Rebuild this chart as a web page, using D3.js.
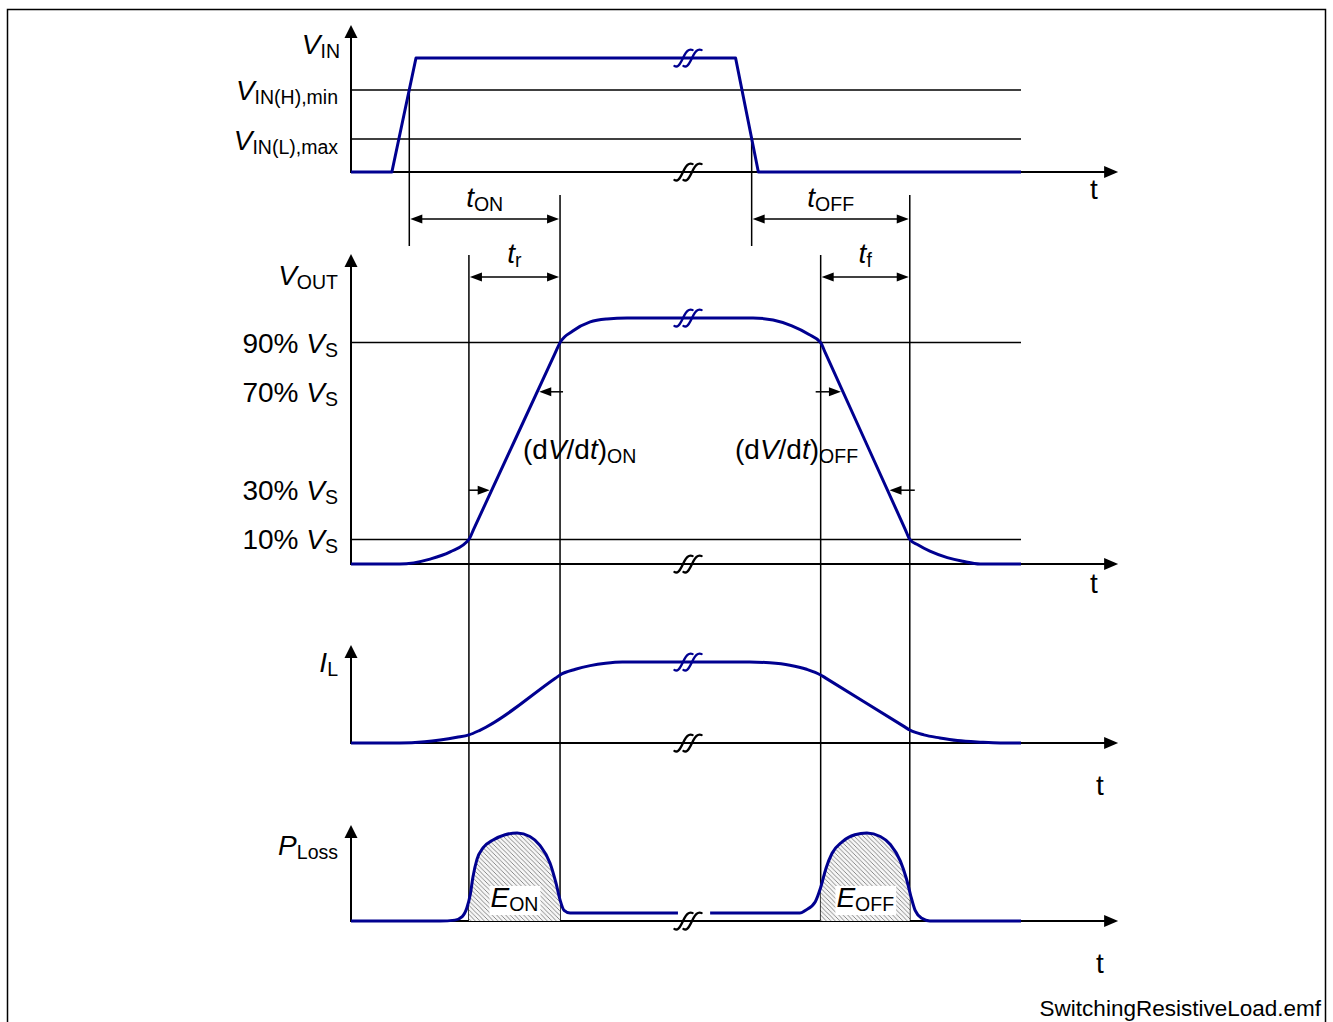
<!DOCTYPE html>
<html><head><meta charset="utf-8">
<script src="https://cdn.jsdelivr.net/npm/d3@7"></script>
<style>body{margin:0;background:#fff} svg text{font-family:"Liberation Sans",Arial,Helvetica,sans-serif}</style>
</head><body>
<svg id="c" width="1333" height="1022"></svg>
<script>
// ---------------- DATA ----------------
// time axis in arbitrary units 0..100
const vinTime  = [0, 6.1, 9.7, 57.4, 60.8, 100];
const vinLevel = [0, 0, 1, 1, 0, 0];
const vinThresholds = [0.72, 0.29];            // V_IN(H),min , V_IN(L),max

const voutTime = [0, 7.3, 11.8, 14.8, 17.6, 18.3, 30.5, 31.2, 33.1, 35.7, 38.2, 41.2, 60, 63, 65.8, 68.3, 70.1, 70.8, 82.7, 83.4, 84.6, 86.4, 89.0, 91.3, 93.9, 100];
const voutPct  = [0, 0, 2, 4.9, 10, 14.1, 85.9, 90, 94.7, 98.4, 99.6, 100, 100, 99.2, 96.8, 93.4, 90, 85.8, 14.2, 10, 7.8, 5.2, 2.6, 1.1, 0, 0];
const voutLines  = [90, 10];
const voutLabels = ["90%", "70%", "30%", "10%"];
const voutLabelLevels = [90, 70, 30, 10];

const ilTime  = [0, 7.3, 11, 13.3, 15.8, 17.6, 19.3, 30.5, 31.2, 33.5, 35.7, 38, 40.5, 59.5, 62.5, 65.5, 68, 70.1, 70.8, 82.7, 83.4, 85.5, 87.9, 90.5, 93.9, 96.9, 100];
const ilLevel = [0, 0, 0.015, 0.037, 0.07, 0.1, 0.16, 0.8, 0.84, 0.91, 0.955, 0.985, 1, 1, 0.99, 0.96, 0.91, 0.84, 0.804, 0.196, 0.16, 0.1, 0.062, 0.03, 0.01, 0, 0];

const pOnTime  = [0, 13.3, 15.5, 16.6, 17.3, 17.8, 18.2, 18.8, 19.7, 21.2, 23.0, 24.8, 26.7, 28.2, 29.7, 30.6, 31.2, 31.8, 32.7, 48.8];
const pOnLevel = [0, 0, 0.01, 0.05, 0.15, 0.3, 0.5, 0.7, 0.83, 0.92, 0.98, 1.0, 0.96, 0.86, 0.66, 0.43, 0.24, 0.12, 0.09, 0.09];
const pOffTime  = [53.6, 67, 67.8, 69.3, 70.1, 70.9, 71.8, 73.3, 75.2, 77.0, 79.0, 80.5, 82.0, 82.9, 83.5, 84.2, 85.2, 86.4, 100];
const pOffLevel = [0.09, 0.09, 0.12, 0.22, 0.38, 0.6, 0.77, 0.9, 0.98, 1.0, 0.96, 0.87, 0.68, 0.48, 0.3, 0.12, 0.03, 0, 0];

// switching events (time units)
const tOnStart = 8.7, tOnEnd = 31.2, trStart = 17.6;
const tOffStart = 59.8, tfStart = 70.1, tOffEnd = 83.4;
const breakTime = 50.3;
const dvdtLevels = [70, 30];

// ---------------- SCALES ----------------
const svg = d3.select('#c');
const BLUE = '#000090';
const x = d3.scaleLinear().domain([0, 100]).range([351, 1021]);
const xEnd = 114.5;
const yIn  = d3.scaleLinear().domain([0, 1]).range([172, 58]);
const yOut = d3.scaleLinear().domain([0, 100]).range([564, 318]);
const yIL  = d3.scaleLinear().domain([0, 1]).range([743, 662]);
const yP   = d3.scaleLinear().domain([0, 1]).range([921, 833]);

// ---------------- helpers ----------------
const FS = 28, SFS = 19.5;
const I = s => ({t: s, i: true}), S = s => ({t: s, s: true}), R = s => ({t: s});
function rich(g, px, py, parts, anchor = 'start', size = FS) {
  const t = g.append('text').attr('x', px).attr('y', py).attr('text-anchor', anchor)
    .attr('font-size', size).attr('fill', '#000');
  let sub = false;
  parts.forEach(p => {
    const s = t.append('tspan').text(p.t);
    if (p.i) s.attr('font-style', 'italic');
    if (p.s) { s.attr('font-size', SFS); if (!sub) { s.attr('dy', 4); sub = true; } }
    else if (sub) { s.attr('dy', -4); sub = false; }
  });
  return t;
}
function head(g, tx, ty, dir, len, hw) {
  let pts;
  if (dir === 'up') pts = [[tx, ty], [tx - hw, ty + len], [tx + hw, ty + len]];
  else if (dir === 'right') pts = [[tx, ty], [tx - len, ty - hw], [tx - len, ty + hw]];
  else pts = [[tx, ty], [tx + len, ty - hw], [tx + len, ty + hw]];
  g.append('polygon').attr('points', pts.map(p => p.join(',')).join(' ')).attr('fill', '#000');
}
function hline(g, x1, x2, y, w = 1.5, c = '#000') {
  g.append('line').attr('x1', x1).attr('x2', x2).attr('y1', y).attr('y2', y).attr('stroke', c).attr('stroke-width', w);
}
function vline(g, xx, y1, y2, w = 1.5) {
  g.append('line').attr('x1', xx).attr('x2', xx).attr('y1', y1).attr('y2', y2).attr('stroke', '#000').attr('stroke-width', w);
}
function breakMark(g, cx, cy, color) {
  [-4.5, 4.5].forEach(dx => {
    g.append('path').attr('transform', `translate(${cx + dx},${cy})`)
      .attr('d', 'M-9,8 C-6,9.5 -4,7 -2,3 L1,-3 C3,-7 5,-9.5 9,-8')
      .attr('fill', 'none').attr('stroke', color).attr('stroke-width', 2.4).attr('stroke-linecap', 'round');
  });
}
const zip = (a, b) => a.map((v, i) => [v, b[i]]);

// ---------------- defs ----------------
const defs = svg.append('defs');
const pat = defs.append('pattern').attr('id', 'hatch').attr('patternUnits', 'userSpaceOnUse').attr('width', 4.5).attr('height', 4.5);
pat.append('rect').attr('width', 4.5).attr('height', 4.5).attr('fill', '#f6f6f6');
pat.append('path').attr('d', 'M0,0 L4.5,4.5 M-1,3.5 L1,5.5 M3.5,-1 L5.5,1').attr('stroke', '#7e7e7e').attr('stroke-width', 0.9);
[[trStart, tOnEnd, 'clipOn'], [tfStart, tOffEnd, 'clipOff']].forEach(([a, b, id]) => {
  defs.append('clipPath').attr('id', id).append('rect')
    .attr('x', x(a)).attr('y', yP(1.2)).attr('width', x(b) - x(a)).attr('height', yP(0) - yP(1.2));
});

// ---------------- border ----------------
svg.append('path').attr('d', 'M7.5,1022 V9.5 H1325.5 V1022').attr('fill', 'none').attr('stroke', '#000').attr('stroke-width', 1.5);

const g = svg.append('g');

// threshold lines
vinThresholds.forEach(v => hline(g, x(0), x(100), yIn(v)));
voutLines.forEach(v => hline(g, x(0), x(100), yOut(v)));

// axes
[[yIn, 1.29], [yOut, 126], [yIL, 1.21], [yP, 1.09]].forEach(([ys, top]) => {
  vline(g, x(0), ys(0) + 1, ys(top) + 10, 2);
  head(g, x(0), ys(top), 'up', 13, 6.5);
  hline(g, x(0), x(xEnd) - 10, ys(0), 2);
  head(g, x(xEnd), ys(0), 'right', 14, 6);
});

// vertical event lines
vline(g, x(tOnStart), yIn(vinThresholds[0]), 246);
vline(g, x(tOffStart), yIn(vinThresholds[1]), 246);
vline(g, x(tOnEnd), 195, yP(0));
vline(g, x(tOffEnd), 195, yP(0));
vline(g, x(trStart), 255, yP(0));
vline(g, x(tfStart), 255, yP(0));

// dimension arrows
[[tOnStart, tOnEnd, 219], [tOffStart, tOffEnd, 219], [trStart, tOnEnd, 277], [tfStart, tOffEnd, 277]].forEach(([a, b, yy]) => {
  hline(g, x(a) + 8, x(b) - 8, yy, 1.5);
  head(g, x(a) + 1, yy, 'left', 12, 4.5);
  head(g, x(b) - 1, yy, 'right', 12, 4.5);
});

// hatched energy areas
const area = d3.area().x(d => x(d[0])).y0(yP(0)).y1(d => yP(d[1])).curve(d3.curveMonotoneX);
g.append('path').datum(zip(pOnTime, pOnLevel)).attr('d', area).attr('fill', 'url(#hatch)').attr('clip-path', 'url(#clipOn)');
g.append('path').datum(zip(pOffTime, pOffLevel)).attr('d', area).attr('fill', 'url(#hatch)').attr('clip-path', 'url(#clipOff)');

// waveforms
const mk = ys => d3.line().x(d => x(d[0])).y(d => ys(d[1])).curve(d3.curveMonotoneX);
const wave = (data, gen) => g.append('path').datum(data).attr('d', gen)
  .attr('fill', 'none').attr('stroke', BLUE).attr('stroke-width', 3).attr('stroke-linejoin', 'round');
wave(zip(vinTime, vinLevel), d3.line().x(d => x(d[0])).y(d => yIn(d[1])));
wave(zip(voutTime, voutPct), mk(yOut));
wave(zip(ilTime, ilLevel), mk(yIL));
wave(zip(pOnTime, pOnLevel), mk(yP));
wave(zip(pOffTime, pOffLevel), mk(yP));

// break marks
[yIn, yOut, yIL, yP].forEach(ys => breakMark(g, x(breakTime), ys(0), '#000'));
breakMark(g, x(breakTime), yIn(1), BLUE);
breakMark(g, x(breakTime), yOut(100), BLUE);
breakMark(g, x(breakTime), yIL(1), BLUE);

// dV/dt arrows: crossing times on the VOUT ramp
function crossing(level, t0, t1) {
  for (let i = 0; i < voutTime.length - 1; i++) {
    const a = voutTime[i], b = voutTime[i + 1];
    if (a < t0 || b > t1) continue;
    const va = voutPct[i], vb = voutPct[i + 1];
    if ((va - level) * (vb - level) <= 0 && va !== vb) return a + (level - va) / (vb - va) * (b - a);
  }
  return null;
}
{
  const t70 = crossing(dvdtLevels[0], trStart, tOnEnd), t30 = crossing(dvdtLevels[1], trStart, tOnEnd);
  const y70 = yOut(dvdtLevels[0]), y30 = yOut(dvdtLevels[1]);
  hline(g, x(t70) + 12, x(tOnEnd) + 3, y70, 1.5); head(g, x(t70) + 2, y70, 'left', 12, 4.5);
  hline(g, x(trStart), x(t30) - 12, y30, 1.5); head(g, x(t30) - 2, y30, 'right', 12, 4.5);
  const f70 = crossing(dvdtLevels[0], tfStart, tOffEnd), f30 = crossing(dvdtLevels[1], tfStart, tOffEnd);
  hline(g, x(tfStart) - 5, x(f70) - 12, y70, 1.5); head(g, x(f70) - 2, y70, 'right', 12, 4.5);
  hline(g, x(f30) + 12, x(tOffEnd) + 5, y30, 1.5); head(g, x(f30) + 2, y30, 'left', 12, 4.5);
}

// ---------------- texts ----------------
const T = svg.append('g');
rich(T, 340, 54, [I('V'), S('IN')], 'end');
rich(T, 338, yIn(vinThresholds[0]) + 10, [I('V'), S('IN(H),min')], 'end');
rich(T, 338, yIn(vinThresholds[1]) + 11, [I('V'), S('IN(L),max')], 'end');
rich(T, 338, 285, [I('V'), S('OUT')], 'end');
voutLabels.forEach((lab, i) => rich(T, 338, yOut(voutLabelLevels[i]) + 10, [R(lab + ' '), I('V'), S('S')], 'end'));
rich(T, 338, 672, [I('I'), S('L')], 'end');
rich(T, 338, 855, [I('P'), S('Loss')], 'end');

rich(T, (x(tOnStart) + x(tOnEnd)) / 2, 207, [I('t'), S('ON')], 'middle');
rich(T, (x(tOffStart) + x(tOffEnd)) / 2, 207, [I('t'), S('OFF')], 'middle');
rich(T, (x(trStart) + x(tOnEnd)) / 2, 263, [I('t'), S('r')], 'middle');
rich(T, (x(tfStart) + x(tOffEnd)) / 2, 263, [I('t'), S('f')], 'middle');

rich(T, 523, 459, [R('(d'), I('V'), R('/d'), I('t'), R(')'), S('ON')]);
rich(T, 735, 459, [R('(d'), I('V'), R('/d'), I('t'), R(')'), S('OFF')]);

// energy labels with white background
[[trStart, tOnEnd, 'ON'], [tfStart, tOffEnd, 'OFF']].forEach(([a, b, s]) => {
  const cx = (x(a) + x(b)) / 2;
  const bg = T.append('rect').attr('fill', '#fff');
  const t = rich(T, cx, 907, [I('E'), S(s)], 'middle');
  const bb = t.node().getBBox();
  bg.attr('x', bb.x - 1).attr('y', bb.y + 4).attr('width', bb.width + 3).attr('height', bb.height - 4);
});

// axis 't' labels
[[1090, 199], [1090, 593], [1096, 795], [1096, 973]].forEach(([tx, ty]) => rich(T, tx, ty, [R('t')]));

T.append('text').attr('x', 1321).attr('y', 1016).attr('text-anchor', 'end').attr('font-size', 22.5).text('SwitchingResistiveLoad.emf');
</script>
</body></html>
